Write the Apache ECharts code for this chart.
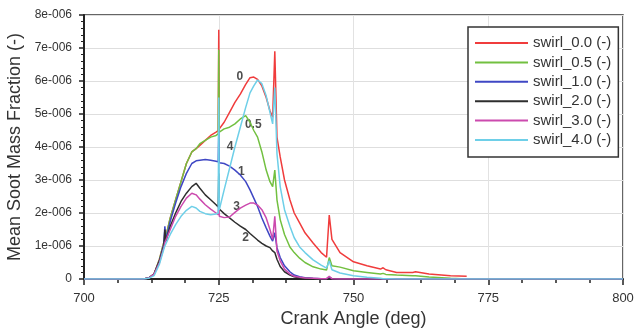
<!DOCTYPE html>
<html>
<head>
<meta charset="utf-8">
<script src="https://cdn.jsdelivr.net/npm/echarts@6/dist/echarts.min.js"></script>
<style>
html,body{margin:0;padding:0;background:#fff;}
#chart{width:634px;height:329px;}
</style>
</head>
<body>
<div id="chart"></div>
<script>
// Crank angle samples (deg)
const crankAngle = [700, 711, 712, 713, 714, 714.8, 715, 715.2, 716, 717,
  718, 719, 720, 720.8, 721.5, 722.5, 723.5, 724.5, 724.9, 725,
  725.1, 726, 727, 728, 729, 730, 730.8, 731.5, 732.2, 733,
  733.8, 734.5, 735, 735.4, 735.8, 736.4, 737.2, 738.2, 739, 740,
  741, 742.5, 744, 745, 745.5, 746, 747.5, 750, 752.5, 755,
  755.5, 756, 758, 761, 761.5, 764, 768, 771, 780, 800];

// Values in units of 1e-6
const UNIT = 1e-6;
const swirl00 = [0, 0, 0.03, 0.15, 0.6, 1.1, 1.2, 1.3, 1.85, 2.4,
  2.95, 3.5, 3.85, 3.95, 4.05, 4.2, 4.35, 4.45, 4.5, 7.55,
  4.55, 4.75, 5.05, 5.35, 5.6, 5.9, 6.1, 6.12, 6.05, 5.85,
  5.5, 5.1, 4.9, 6.9, 4.3, 3.7, 3.0, 2.4, 2.0, 1.7,
  1.4, 1.09, 0.8, 0.66, 1.94, 1.2, 0.8, 0.52, 0.4, 0.3,
  0.34, 0.28, 0.2, 0.2, 0.22, 0.15, 0.1, 0.08, null, null];
const swirl05 = [0, 0, 0.03, 0.15, 0.6, 1.1, 1.2, 1.3, 1.85, 2.4,
  2.95, 3.5, 3.85, 3.95, 4.1, 4.2, 4.3, 4.35, 4.4, 6.95,
  4.45, 4.55, 4.6, 4.7, 4.85, 4.95, 4.75, 4.5, 4.3, 3.85,
  3.3, 2.95, 2.8, 3.3, 2.4, 1.8, 1.35, 0.97, 0.8, 0.63,
  0.5, 0.37, 0.3, 0.27, 0.65, 0.4, 0.36, 0.25, 0.2, 0.15,
  0.17, 0.14, 0.12, 0.1, 0.1, 0.06, 0.02, 0, 0, 0];
const swirl10 = [0, 0, 0.03, 0.15, 0.55, 1.05, 1.6, 1.2, 1.75, 2.3,
  2.8, 3.2, 3.5, 3.58, 3.6, 3.62, 3.6, 3.57, 3.55, 4.5,
  3.52, 3.5, 3.42, 3.3, 3.15, 2.95, 2.7, 2.45, 2.2, 1.85,
  1.55, 1.3, 1.15, 1.4, 0.95, 0.65, 0.4, 0.22, 0.12, 0.07,
  0.04, 0.02, 0.01, 0.01, 0.05, 0.01, 0, 0, 0, 0,
  0, 0, 0, 0, 0, 0, 0, 0, 0, 0];
const swirl20 = [0, 0, 0.03, 0.15, 0.55, 1.0, 1.5, 1.15, 1.6, 2.0,
  2.35, 2.6, 2.8, 2.9, 2.75, 2.55, 2.4, 2.25, 2.18, 3.2,
  2.12, 1.98, 1.85, 1.72, 1.6, 1.5, 1.38, 1.28, 1.18, 1.08,
  1.0, 0.95, 0.85, 0.8, 0.6, 0.38, 0.22, 0.12, 0.07, 0.04,
  0.02, 0.01, 0, 0, 0, 0, 0, 0, 0, 0,
  0, 0, 0, 0, 0, 0, 0, 0, 0, 0];
const swirl30 = [0, 0, 0.03, 0.15, 0.5, 0.95, 1.1, 1.15, 1.5, 1.9,
  2.2, 2.45, 2.6, 2.55, 2.42, 2.25, 2.12, 2.0, 1.95, 2.3,
  1.9, 1.86, 1.88, 2.02, 2.15, 2.24, 2.3, 2.3, 2.24, 2.1,
  1.85, 1.5, 1.2, 1.9, 0.85, 0.55, 0.3, 0.15, 0.08, 0.05,
  0.03, 0.02, 0.01, 0.01, 0.08, 0.01, 0, 0, 0, 0,
  0, 0, 0, 0, 0, 0, 0, 0, 0, 0];
const swirl40 = [0, 0, 0.02, 0.1, 0.45, 0.9, 1.0, 1.05, 1.35, 1.65,
  1.9, 2.08, 2.2, 2.15, 2.05, 1.98, 1.95, 1.97, 2.0, 5.5,
  2.1, 2.7, 3.35, 4.0, 4.6, 5.2, 5.64, 5.85, 6.03, 5.92,
  5.55, 5.05, 4.7, 5.8, 3.8, 2.8, 2.1, 1.6, 1.25, 0.97,
  0.8, 0.58, 0.42, 0.33, 0.55, 0.28, 0.18, 0.1, 0.05, 0.02,
  0.01, 0.01, 0, 0, 0, 0, 0, 0, 0, 0];

const seriesNames = ['swirl_0.0 (-)', 'swirl_0.5 (-)', 'swirl_1.0 (-)', 'swirl_2.0 (-)', 'swirl_3.0 (-)', 'swirl_4.0 (-)'];
const seriesColors = ['#f03c3c', '#72c040', '#3f47c4', '#2e2e2e', '#cc4aae', '#6ecfe8'];
const seriesValues = [swirl00, swirl05, swirl10, swirl20, swirl30, swirl40];

const yTickLabels = ['0', '1e-006', '2e-006', '3e-006', '4e-006', '5e-006', '6e-006', '7e-006', '8e-006'];

// Curve annotations: [crank angle, value (1e-6), text]
const curveLabels = [
  [728.9, 6.12, '0'],
  [731.4, 4.67, '0.5'],
  [727.1, 4.0, '4'],
  [729.2, 3.24, '1'],
  [728.3, 2.18, '3'],
  [730.0, 1.24, '2']
];

const FONT = 'Arial, "Liberation Sans", sans-serif';

const series = seriesNames.map((name, k) => ({
  name: name,
  type: 'line',
  symbol: 'none',
  showSymbol: false,
  animation: false,
  lineStyle: { color: seriesColors[k], width: 1.5 },
  itemStyle: { color: seriesColors[k] },
  data: crankAngle.map((x, i) => [x, seriesValues[k][i] == null ? '-' : seriesValues[k][i] * UNIT])
}));
series.push({
  name: 'labels',
  type: 'scatter',
  symbolSize: 1,
  animation: false,
  silent: true,
  itemStyle: { color: 'rgba(0,0,0,0)' },
  label: {
    show: true, position: 'inside',
    formatter: p => p.value[2],
    fontSize: 12, fontWeight: 'bold', color: '#222', fontFamily: FONT
  },
  data: curveLabels.map(d => [d[0], d[1] * UNIT, d[2]])
});

const chart = echarts.init(document.getElementById('chart'), null, { renderer: 'canvas' });
chart.setOption({
  backgroundColor: '#fff',
  animation: false,
  textStyle: { fontFamily: FONT },
  grid: {
    left: 84, right: 11, top: 15, bottom: 50,
    containLabel: false, outerBoundsMode: 'none',
    show: true, borderColor: '#333', borderWidth: 1.5, backgroundColor: '#fff'
  },
  legend: {
    data: seriesNames,
    orient: 'vertical',
    left: 468, top: 27,
    padding: [8, 7, 9, 7],
    backgroundColor: '#fff',
    borderColor: '#333', borderWidth: 1.5,
    icon: 'rect', itemWidth: 53, itemHeight: 2, itemGap: 3.4,
    textStyle: { fontSize: 15, color: '#333', lineHeight: 16, fontFamily: FONT }
  },
  xAxis: {
    type: 'value', min: 700, max: 800, interval: 25,
    name: 'Crank Angle (deg)', nameLocation: 'middle', nameGap: 31,
    nameTextStyle: { fontSize: 18, color: '#333', fontFamily: FONT },
    axisLine: { show: true, onZero: false, lineStyle: { color: '#222', width: 2 } },
    axisTick: { show: true, length: 6, lineStyle: { color: '#222', width: 1.5 } },
    minorTick: { show: true, splitNumber: 4, length: 4, lineStyle: { color: '#222', width: 1.5 } },
    splitLine: { show: true, lineStyle: { color: '#e2e2e2', width: 1 } },
    axisLabel: { fontSize: 13, color: '#333', margin: 13, fontFamily: FONT }
  },
  yAxis: {
    type: 'value', min: 0, max: 8 * UNIT, interval: UNIT,
    name: 'Mean Soot Mass Fraction (-)', nameLocation: 'middle', nameGap: 58,
    nameTextStyle: { fontSize: 18, color: '#333', fontFamily: FONT },
    axisLine: { show: true, lineStyle: { color: '#222', width: 2 } },
    axisTick: { show: true, length: 5, lineStyle: { color: '#222', width: 1.5 } },
    minorTick: { show: true, splitNumber: 5, length: 3, lineStyle: { color: '#222', width: 1 } },
    splitLine: { show: true, lineStyle: { color: '#dedede', width: 1 } },
    axisLabel: {
      fontSize: 12, color: '#333', margin: 12, fontFamily: FONT,
      formatter: v => yTickLabels[Math.round(v / UNIT)]
    }
  },
  series: series
});
</script>
</body>
</html>
